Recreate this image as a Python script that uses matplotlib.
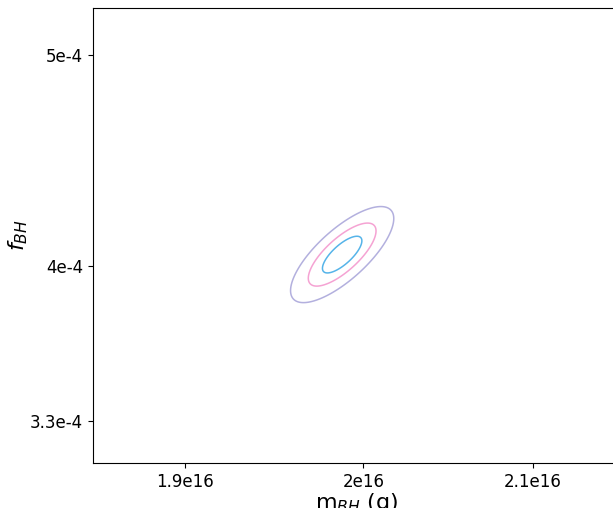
import numpy as np
import matplotlib
matplotlib.use("Agg")
import matplotlib.pyplot as plt
from matplotlib.ticker import FixedLocator, NullLocator, FixedFormatter

# --- data ---
center_mass = 1.9878e16          # g
center_f = 4.054e-4
sigma_log10_mass = 0.002469      # decades (inner contour scale)
sigma_f = 8.70e-6
correlation = 0.75
contour_levels = [1.0, 2.95, 6.85]   # delta chi^2
contour_colors = ["#56B4E9", "#F5A3D3", "#B3B0DE"]

x_limits = [1.850e16, 2.1536e16]
y_limits = [3.066e-4, 5.223e-4]
x_tick_values = [1.9e16, 2.0e16, 2.1e16]
x_tick_labels = ["1.9e16", "2e16", "2.1e16"]
y_tick_values = [3.265e-4, 4.0e-4, 5.0e-4]
y_tick_labels = ["3.3e-4", "4e-4", "5e-4"]

# --- grid and quadratic form ---
u = np.linspace(np.log10(x_limits[0]), np.log10(x_limits[1]), 700)
v = np.linspace(y_limits[0], y_limits[1], 700)
U, V = np.meshgrid(u, v)
du = (U - np.log10(center_mass)) / sigma_log10_mass
dv = (V - center_f) / sigma_f
chi2 = (du**2 - 2 * correlation * du * dv + dv**2) / (1 - correlation**2)

fig = plt.figure(figsize=(6.13, 5.08), dpi=100)
ax = fig.add_axes([93 / 613, 45 / 508, (620 - 93) / 613, 455 / 508])
ax.contour(10**U, V, chi2, levels=contour_levels, colors=contour_colors, linewidths=1.1)
ax.set_xscale("log")
ax.set_xlim(x_limits)
ax.set_ylim(y_limits)
ax.xaxis.set_major_locator(FixedLocator(x_tick_values))
ax.xaxis.set_major_formatter(FixedFormatter(x_tick_labels))
ax.xaxis.set_minor_locator(NullLocator())
ax.yaxis.set_major_locator(FixedLocator(y_tick_values))
ax.yaxis.set_major_formatter(FixedFormatter(y_tick_labels))
ax.yaxis.set_minor_locator(NullLocator())
ax.tick_params(labelsize=12)
ax.set_xlabel(r"m$_{BH}$ (g)", fontsize=16, labelpad=0)
ax.set_ylabel(r"$f_{BH}$", fontsize=16, labelpad=0)
fig.savefig("out.png", dpi=100)
